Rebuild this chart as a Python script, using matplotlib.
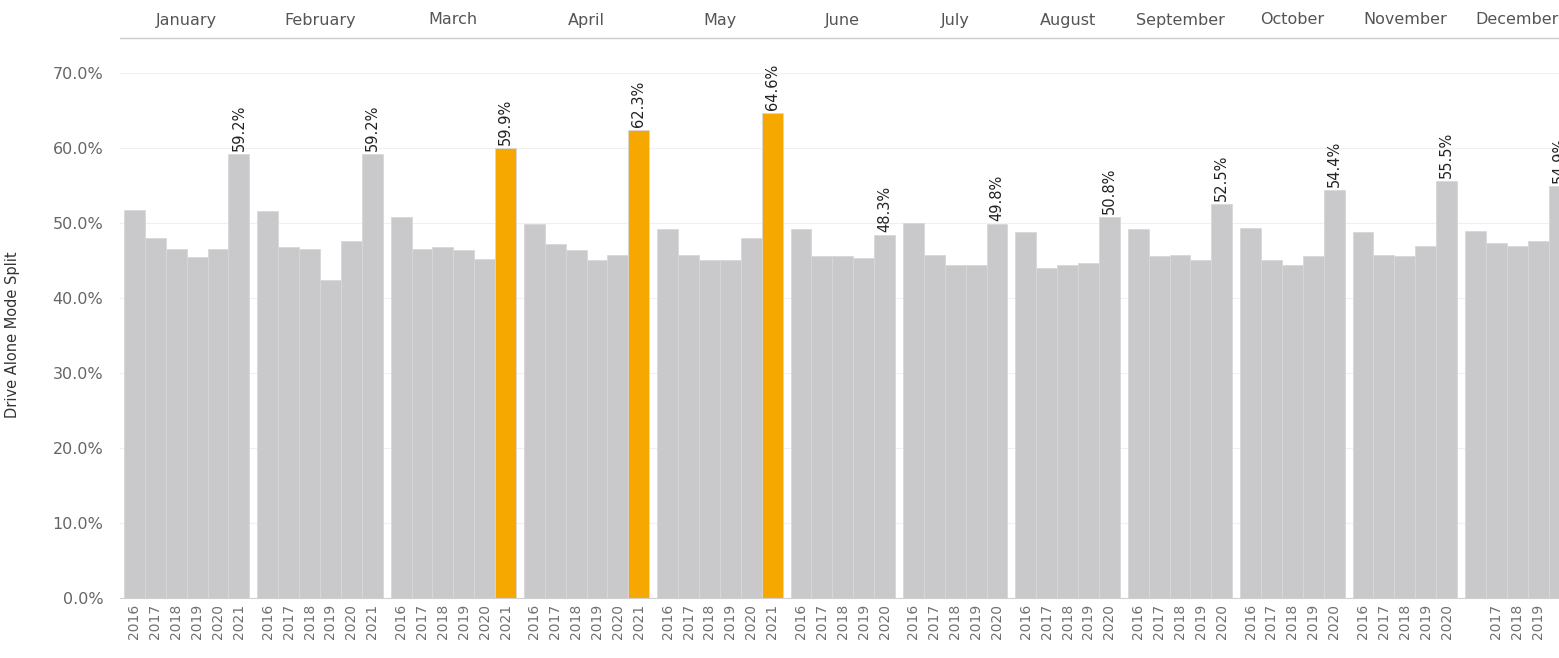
import numpy as np
import matplotlib
matplotlib.use("Agg")
import matplotlib.pyplot as plt
import matplotlib.transforms as mtransforms
from matplotlib.lines import Line2D

months = ["January", "February", "March", "April", "May", "June", "July",
          "August", "September", "October", "November", "December"]
years_6 = ["2016", "2017", "2018", "2019", "2020", "2021"]
years_5 = ["2016", "2017", "2018", "2019", "2020"]

jan = [51.7, 48.0, 46.5, 45.4, 46.5, 59.2]
feb = [51.5, 46.7, 46.5, 42.4, 47.6, 59.2]
mar = [50.8, 46.5, 46.7, 46.3, 45.2, 59.9]
apr = [49.8, 47.2, 46.3, 45.0, 45.7, 62.3]
may = [49.1, 45.7, 45.0, 45.0, 48.0, 64.6]
jun = [49.1, 45.5, 45.5, 45.3, 48.3]
jul = [50.0, 45.7, 44.3, 44.4, 49.8]
aug = [48.7, 44.0, 44.3, 44.6, 50.8]
sep = [49.1, 45.5, 45.7, 45.0, 52.5]
oct_ = [49.3, 45.0, 44.3, 45.5, 54.4]
nov = [48.7, 45.7, 45.5, 46.9, 55.5]
dec = [48.9, 47.3, 46.9, 47.6, 54.9]
values = [jan, feb, mar, apr, may, jun, jul, aug, sep, oct_, nov, dec]
highlight = ["March", "April", "May"]  # 2021 bars shown in orange

W, H = 1559, 658
fig = plt.figure(figsize=(W / 100, H / 100), dpi=100)
ax = fig.add_axes([120 / W, 1 - 598 / H, 1 - 120 / W, 548 / H])

gap = 0.38
grey = "#c9c9cb"
orange = "#f7a800"
x0 = 0.0
tick_x, tick_lab = [], []
for m, vals in zip(months, values):
    n = len(vals)
    yrs = years_6 if n == 6 else years_5
    xs = x0 + np.arange(n)
    cols = [grey] * n
    if m in highlight:
        cols[-1] = orange
    ax.bar(xs, vals, width=1.0, align="edge", color=cols,
           edgecolor="#d8d8da", linewidth=0.6)
    # label on the latest year
    ax.text(xs[-1] + 0.5, vals[-1] + 0.4, f"{vals[-1]:.1f}%", rotation=90,
            ha="center", va="bottom", fontsize=10.5, color="#222222")
    labs = list(yrs)
    if m == "December":
        labs[0] = ""
        labs[-1] = ""
    tick_x += list(xs + 0.5)
    tick_lab += labs
    # month header
    trans = mtransforms.blended_transform_factory(ax.transData, fig.transFigure)
    ax.text(x0 + n / 2, 1 - 20 / H, m, transform=trans, ha="center",
            va="center", fontsize=11.5, color="#555555", clip_on=False)
    x0 += n + gap

ax.set_xlim(-4 / 20.9, (W - 124) / 20.9)
ax.set_ylim(0, 73)
ax.set_yticks(np.arange(0, 71, 10))
ax.set_yticklabels([f"{v:.1f}%" for v in np.arange(0, 71, 10)])
ax.set_xticks(tick_x)
ax.set_xticklabels(tick_lab, rotation=90, fontsize=10, color="#707070")
ax.tick_params(axis="x", length=0, pad=4)
ax.tick_params(axis="y", length=0, pad=12, labelsize=11.5, labelcolor="#666666")
ax.yaxis.grid(True, color="#f0f0f0", linewidth=0.8)
ax.set_axisbelow(True)
for s in ["top", "right", "left"]:
    ax.spines[s].set_visible(False)
ax.spines["bottom"].set_color("#d0d0d0")
ax.set_ylabel("Drive Alone Mode Split", fontsize=10.5, color="#333333")
ax.yaxis.set_label_coords(-(120 - 20) / (W - 120), 0.48)

fig.add_artist(Line2D([120 / W, 1], [1 - 38 / H, 1 - 38 / H],
                      transform=fig.transFigure, color="#cccccc", linewidth=1))

fig.savefig("out.png", dpi=100)
